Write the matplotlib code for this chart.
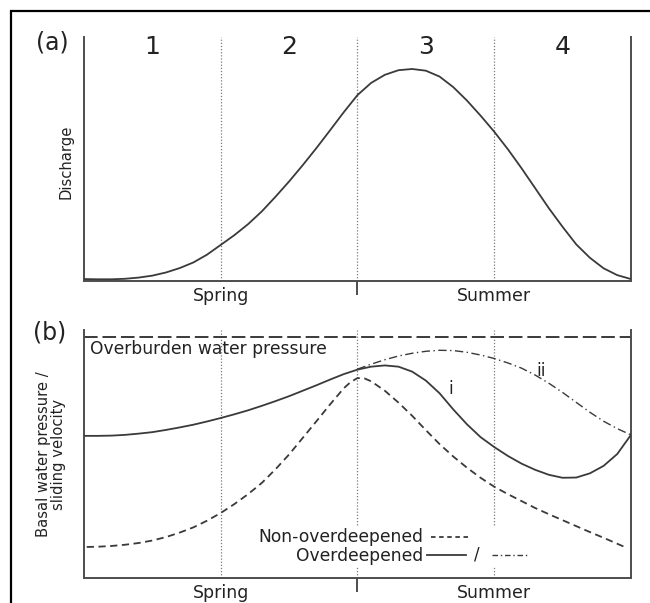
import matplotlib.pyplot as plt
from matplotlib.lines import Line2D
from matplotlib.patches import Rectangle

# melt season along x: four phases, one unit each
phases = ["1", "2", "3", "4"]
phase_centres = [0.5, 1.5, 2.5, 3.5]
phase_bounds = [1, 2, 3]
season_ticks = [1, 3]
season_labels = ["Spring", "Summer"]

# (a) proglacial discharge, sampled every 0.1
discharge_x = [i / 10 for i in range(41)]
discharge_y = [0.008, 0.007, 0.007, 0.009, 0.014, 0.022, 0.035, 0.053, 0.076, 0.108,
               0.148, 0.188, 0.233, 0.285, 0.345, 0.408, 0.475, 0.545, 0.618, 0.692,
               0.762, 0.812, 0.845, 0.864, 0.869, 0.862, 0.838, 0.795, 0.740, 0.678,
               0.612, 0.540, 0.462, 0.380, 0.298, 0.222, 0.150, 0.095, 0.052, 0.024,
               0.008]

# (b) basal water pressure / sliding velocity
overburden = 0.972

overdeep_i_x = [i / 10 for i in range(41)]
overdeep_i_y = [0.573, 0.573, 0.574, 0.577, 0.582, 0.588, 0.597, 0.607, 0.618, 0.631,
                0.645, 0.660, 0.676, 0.694, 0.713, 0.733, 0.755, 0.777, 0.800, 0.822,
                0.840, 0.852, 0.857, 0.852, 0.832, 0.796, 0.745, 0.680, 0.620, 0.568,
                0.528, 0.492, 0.461, 0.436, 0.416, 0.404, 0.405, 0.422, 0.452, 0.500,
                0.577]

overdeep_ii_x = [2.0 + i / 10 for i in range(21)]
overdeep_ii_y = [0.842, 0.862, 0.880, 0.895, 0.906, 0.914, 0.918, 0.917, 0.910, 0.899,
                 0.885, 0.867, 0.846, 0.818, 0.785, 0.748, 0.708, 0.668, 0.632, 0.602,
                 0.577]

nonoverdeep_x = [0.02, 0.1, 0.2, 0.3, 0.4, 0.5, 0.6, 0.7, 0.8, 0.9, 1.0, 1.1, 1.2, 1.3,
                 1.4, 1.5, 1.6, 1.7, 1.8, 1.9, 1.95, 2.0, 2.05, 2.1, 2.2, 2.3, 2.4, 2.5,
                 2.6, 2.7, 2.8, 2.9, 3.0, 3.1, 3.2, 3.3, 3.4, 3.5, 3.6, 3.7, 3.8, 3.9,
                 3.95]
nonoverdeep_y = [0.125, 0.126, 0.129, 0.134, 0.141, 0.151, 0.165, 0.183, 0.204, 0.231,
                 0.262, 0.298, 0.338, 0.383, 0.438, 0.498, 0.565, 0.632, 0.700, 0.765,
                 0.790, 0.806, 0.805, 0.793, 0.755, 0.707, 0.654, 0.596, 0.540, 0.490,
                 0.445, 0.404, 0.368, 0.338, 0.310, 0.282, 0.257, 0.233, 0.209, 0.185,
                 0.162, 0.138, 0.126]

INK = "#222222"
CURVE = "#3a3a3a"
AXIS = "#4d4d4d"
DOTS = "#7a7a7a"


def style_axes(ax):
    ax.set_xlim(0, 4)
    ax.set_ylim(0, 1)
    ax.spines["top"].set_visible(False)
    for side in ["left", "right", "bottom"]:
        ax.spines[side].set_color(AXIS)
        ax.spines[side].set_linewidth(1.4)
    ax.set_yticks([])
    ax.set_xticks([2], labels=[""])
    ax.tick_params(axis="x", which="major", length=10, width=1.4, color=AXIS)
    ax.set_xticks(season_ticks, labels=season_labels, minor=True)
    ax.tick_params(axis="x", which="minor", length=0, pad=4, labelsize=12.5,
                   labelcolor=INK)
    for b in phase_bounds:
        ax.axvline(b, color=DOTS, lw=0.9, ls=(0, (1, 1.5)), zorder=1)


fig = plt.figure(figsize=(6.5, 6.03), dpi=100)
ax_a = fig.add_axes([0.1292, 0.534, 0.8415, 0.4046])
ax_b = fig.add_axes([0.1292, 0.0415, 0.8415, 0.4113])

# --- (a) discharge ---
style_axes(ax_a)
ax_a.plot(discharge_x, discharge_y, color=CURVE, lw=1.3, zorder=3)
for c, p in zip(phase_centres, phases):
    ax_a.text(c, 0.959, p, fontsize=18, ha="center", va="center", color=INK)
ax_a.set_ylabel("Discharge", fontsize=10.6, color=INK)
ax_a.yaxis.set_label_coords(-0.02, 0.49)
fig.text(0.080, 0.930, "(a)", fontsize=17, ha="center", va="center", color=INK)

# --- (b) basal water pressure ---
style_axes(ax_b)
ax_b.axhline(overburden, color=CURVE, lw=1.4, ls=(0, (7, 2.5)), zorder=2)
ax_b.text(0.044, 0.923, "Overburden water pressure", fontsize=12.3,
          ha="left", va="center", color=INK)
ax_b.plot(nonoverdeep_x, nonoverdeep_y, color=CURVE, lw=1.3, ls=(0, (4, 2.5)), zorder=3)
ax_b.plot(overdeep_ii_x, overdeep_ii_y, color=CURVE, lw=1.0,
          ls=(0, (6, 2.5, 1, 2.5)), zorder=3)
ax_b.plot(overdeep_i_x, overdeep_i_y, color=CURVE, lw=1.3, zorder=3)
ax_b.text(2.68, 0.762, "i", fontsize=12.3, ha="center", va="center", color=INK)
ax_b.text(3.34, 0.835, "ii", fontsize=12.3, ha="center", va="center", color=INK)
ax_b.set_ylabel("Basal water pressure /\nsliding velocity", fontsize=10.6,
                color=INK, linespacing=1.05)
ax_b.yaxis.set_label_coords(-0.032, 0.5)
fig.text(0.077, 0.448, "(b)", fontsize=17, ha="center", va="center", color=INK)

# key, drawn on a white patch so the phase lines break behind it
tr = ax_b.transAxes
ax_b.add_patch(Rectangle((0.29, 0.044), 0.54, 0.162, transform=tr,
                         facecolor="white", edgecolor="none", zorder=4))
ax_b.text(0.620, 0.165, "Non-overdeepened", transform=tr, fontsize=12.3,
          ha="right", va="center", color=INK, zorder=5)
ax_b.text(0.620, 0.089, "Overdeepened", transform=tr, fontsize=12.3,
          ha="right", va="center", color=INK, zorder=5)
ax_b.add_line(Line2D([0.634, 0.704], [0.167, 0.167], transform=tr, color=CURVE,
                     lw=1.3, ls=(0, (2.5, 2)), zorder=5))
ax_b.add_line(Line2D([0.627, 0.698], [0.093, 0.093], transform=tr, color=CURVE,
                     lw=1.3, zorder=5))
ax_b.text(0.719, 0.093, "/", transform=tr, fontsize=12, ha="center", va="center",
          color=INK, zorder=5)
ax_b.add_line(Line2D([0.746, 0.814], [0.093, 0.093], transform=tr, color=CURVE,
                     lw=1.0, ls=(0, (4, 2, 1, 2)), zorder=5))

# outer frame
fig.patches.append(Rectangle((0.017, -0.05), 1.1, 1.0318, transform=fig.transFigure,
                             fill=False, edgecolor="black", linewidth=1.6))

fig.savefig("out.png", dpi=100)
